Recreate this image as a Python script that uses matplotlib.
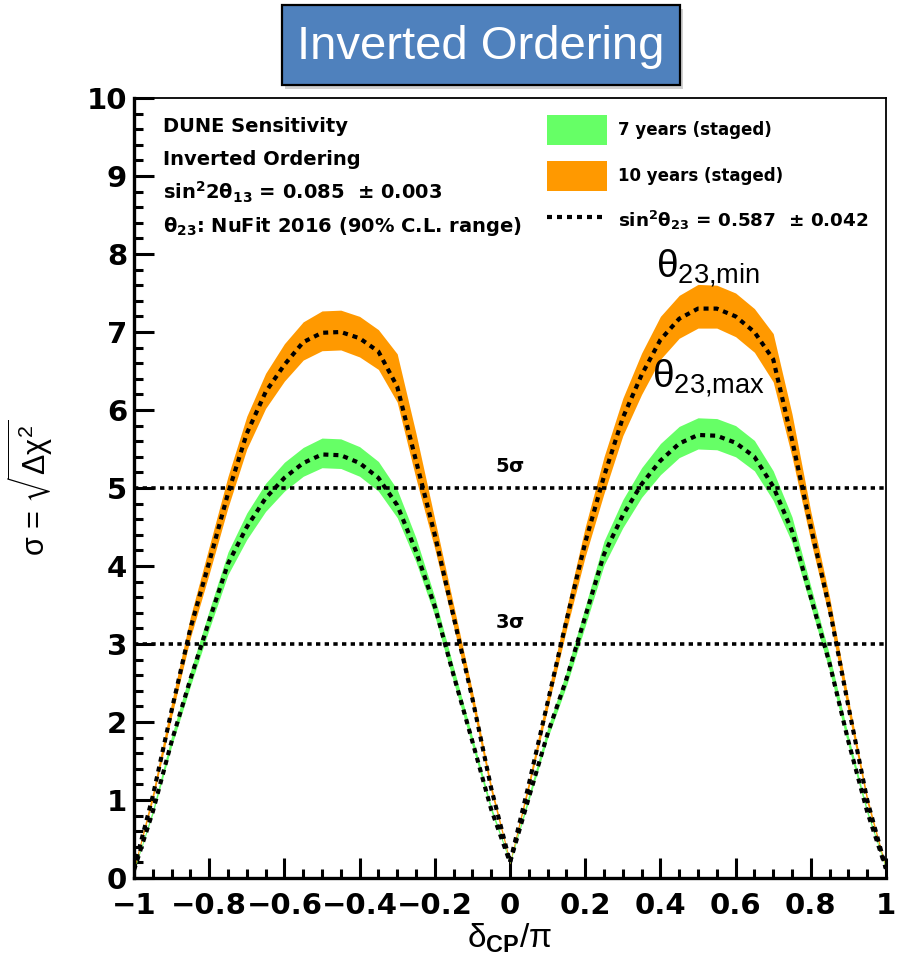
import matplotlib
matplotlib.use("Agg")
import matplotlib.pyplot as plt
from matplotlib.patches import Rectangle
from matplotlib.lines import Line2D
from matplotlib.patches import Patch

# ---------------- data ----------------
dcp = [-1.00, -0.95, -0.90, -0.85, -0.80, -0.75, -0.70, -0.65, -0.60, -0.55,
       -0.50, -0.45, -0.40, -0.35, -0.30, -0.25, -0.20, -0.15, -0.10, -0.05,
       0.00, 0.05, 0.10, 0.15, 0.20, 0.25, 0.30, 0.35, 0.40, 0.45,
       0.50, 0.55, 0.60, 0.65, 0.70, 0.75, 0.80, 0.85, 0.90, 0.95, 1.00]

# 10 years (staged): central (sin^2 theta23 = 0.587), upper and lower edge of band
o_mid = [0.12, 1.05, 2.15, 3.20, 4.05, 4.93, 5.70, 6.23, 6.58, 6.87,
         6.99, 7.00, 6.92, 6.75, 6.30, 5.35, 4.40, 3.35, 2.30, 1.15,
         0.20, 1.20, 2.25, 3.30, 4.30, 5.15, 5.90, 6.45, 6.90, 7.17,
         7.30, 7.30, 7.20, 7.00, 6.65, 5.62, 4.50, 3.45, 2.20, 1.00, 0.12]
o_hi = [0.14, 1.10, 2.25, 3.35, 4.25, 5.15, 5.92, 6.47, 6.85, 7.13,
        7.27, 7.28, 7.20, 7.03, 6.72, 5.70, 4.60, 3.50, 2.40, 1.20,
        0.22, 1.25, 2.35, 3.45, 4.50, 5.40, 6.15, 6.73, 7.20, 7.47,
        7.61, 7.60, 7.50, 7.30, 6.98, 5.95, 4.70, 3.60, 2.30, 1.05, 0.14]
o_lo = [0.10, 1.00, 2.07, 3.08, 3.90, 4.75, 5.50, 6.02, 6.37, 6.64,
        6.76, 6.77, 6.68, 6.52, 6.10, 5.12, 4.22, 3.22, 2.22, 1.10,
        0.18, 1.15, 2.17, 3.18, 4.12, 4.93, 5.67, 6.20, 6.65, 6.92,
        7.05, 7.05, 6.94, 6.74, 6.36, 5.40, 4.32, 3.32, 2.12, 0.96, 0.10]

# 7 years (staged)
g_mid = [0.10, 0.85, 1.75, 2.55, 3.30, 4.03, 4.50, 4.87, 5.13, 5.32,
         5.43, 5.42, 5.32, 5.13, 4.78, 4.19, 3.48, 2.60, 1.75, 0.88,
         0.20, 1.03, 1.85, 2.55, 3.35, 4.15, 4.65, 5.05, 5.35, 5.57,
         5.68, 5.67, 5.58, 5.40, 5.02, 4.45, 3.60, 2.75, 1.75, 0.85, 0.12]
g_hi = [0.11, 0.88, 1.82, 2.65, 3.43, 4.18, 4.68, 5.06, 5.33, 5.52,
        5.64, 5.63, 5.53, 5.34, 4.98, 4.36, 3.60, 2.70, 1.81, 0.92,
        0.21, 1.07, 1.92, 2.65, 3.48, 4.32, 4.85, 5.26, 5.57, 5.79,
        5.90, 5.89, 5.80, 5.61, 5.22, 4.63, 3.74, 2.86, 1.82, 0.88, 0.13]
g_lo = [0.09, 0.82, 1.69, 2.46, 3.19, 3.89, 4.34, 4.70, 4.96, 5.15,
        5.26, 5.25, 5.15, 4.96, 4.62, 4.05, 3.36, 2.51, 1.69, 0.85,
        0.19, 0.99, 1.79, 2.46, 3.23, 4.01, 4.49, 4.88, 5.17, 5.39,
        5.50, 5.49, 5.40, 5.22, 4.84, 4.30, 3.48, 2.65, 1.69, 0.82, 0.11]

sigma_levels = [5, 3]
sigma_labels = [r"5$\sigma$", r"3$\sigma$"]

x_ticks = [-1.0, -0.8, -0.6, -0.4, -0.2, 0.0, 0.2, 0.4, 0.6, 0.8, 1.0]
x_ticklabels = ["\u22121", "\u22120.8", "\u22120.6", "\u22120.4", "\u22120.2", "0",
                "0.2", "0.4", "0.6", "0.8", "1"]
y_ticks = [0, 1, 2, 3, 4, 5, 6, 7, 8, 9, 10]
y_ticklabels = [str(v) for v in y_ticks]

label_7y = "7 years (staged)"
label_10y = "10 years (staged)"
label_mid = r"sin$^{2}\theta_{23}$ = 0.587  $\pm$ 0.042"
info_lines = ["DUNE Sensitivity", "Inverted Ordering",
              r"sin$^{2}$2$\theta_{13}$ = 0.085  $\pm$ 0.003",
              r"$\theta_{23}$: NuFit 2016 (90% C.L. range)"]

# ---------------- style ----------------
plt.rcParams['font.family'] = ['Liberation Sans', 'DejaVu Sans']
plt.rcParams['mathtext.fontset'] = 'custom'
plt.rcParams['mathtext.rm'] = 'Liberation Sans'
plt.rcParams['mathtext.it'] = 'Liberation Sans:italic'
plt.rcParams['mathtext.bf'] = 'Liberation Sans:bold'
plt.rcParams['mathtext.default'] = 'regular'

ROOTFONT = ['DejaVu Sans']
GREEN = '#66ff66'
ORANGE = '#ff9900'
DOT = (0, (1.2, 1.2))

fig = plt.figure(figsize=(8.97, 9.6), dpi=100)
ax = fig.add_axes([134/897, 82/960, 752/897, 780/960])

# bands
ax.fill_between(dcp, o_lo, o_hi, color=ORANGE, lw=0, zorder=2)
ax.fill_between(dcp, g_lo, g_hi, color=GREEN, lw=0, zorder=2)
# central dotted curves
ax.plot(dcp, o_mid, color='black', lw=3.0, linestyle=DOT, zorder=4)
ax.plot(dcp, g_mid, color='black', lw=3.0, linestyle=DOT, zorder=4)

# sigma reference lines
for lev, lab in zip(sigma_levels, sigma_labels):
    ax.axhline(lev, color='black', lw=2.6, linestyle=DOT, zorder=3)
    ax.text(0.0, lev + 0.2, lab, ha='center', va='baseline',
            fontsize=14, fontweight='bold', family=ROOTFONT, zorder=5)

ax.set_xlim(-1, 1)
ax.set_ylim(0, 10)

ax.set_xticks(x_ticks, x_ticklabels, fontweight='bold', fontsize=21, family=ROOTFONT)
ax.set_yticks(y_ticks, y_ticklabels, fontweight='bold', fontsize=21, family=ROOTFONT)
ax.set_xticks([v / 100 for v in range(-100, 101, 5)], minor=True)
ax.set_yticks([v / 5 for v in range(0, 51)], minor=True)
ax.tick_params(which='major', direction='in', length=14.5, width=2.2)
ax.tick_params(which='minor', direction='in', length=6.5, width=2.2)
ax.tick_params(axis='x', which='major', pad=10)
ax.tick_params(axis='y', which='major', pad=5)
ax.tick_params(top=False, right=False, which='both')

for s in ['left', 'bottom']:
    ax.spines[s].set_linewidth(2.4)
for s in ['top', 'right']:
    ax.spines[s].set_linewidth(1.3)

ax.set_xlabel(r"$\delta_{\mathbf{CP}}/\pi$", fontsize=24, labelpad=1)
ax.set_ylabel(r"$\sigma$ = $\sqrt{\Delta\chi^{2}}$", fontsize=22,
              math_fontfamily='dejavusans')
ax.yaxis.set_label_coords(-0.105, 0.5)

# info text
info_y = [0.956, 0.914, 0.870, 0.828]
for t, yy in zip(info_lines, info_y):
    ax.text(0.0386, yy, t, transform=ax.transAxes, fontsize=14,
            fontweight='bold', family=ROOTFONT, math_fontfamily='dejavusans',
            va='baseline', ha='left')

# legend
handles = [Patch(facecolor=GREEN, edgecolor='none'),
           Patch(facecolor=ORANGE, edgecolor='none'),
           Line2D([], [], color='black', lw=3.0, linestyle=DOT)]
leg = ax.legend(handles, [label_7y, label_10y, label_mid], loc='upper left',
                bbox_to_anchor=(0.549, 0.978), frameon=False, borderpad=0,
                borderaxespad=0, handlelength=3.6, handleheight=2.39,
                labelspacing=0.96, handletextpad=0.66,
                prop={'size': 12, 'weight': 'bold', 'family': ROOTFONT})
for t in leg.get_texts():
    t.set_math_fontfamily('dejavusans')
leg.get_texts()[2].set_fontsize(13.2)

# theta23 annotations
ax.text(0.388, 7.7, r"$\theta_{23{,}min}$", fontsize=28, ha='left', va='baseline', zorder=6)
ax.text(0.378, 6.29, r"$\theta_{23{,}max}$", fontsize=28, ha='left', va='baseline', zorder=6)

# title box
shadow = Rectangle((285/897, 1 - 89/960), 398/897, 80/960, transform=fig.transFigure,
                   facecolor='#d0d0d0', edgecolor='none', zorder=1)
box = Rectangle((282/897, 1 - 85/960), 398/897, 80/960, transform=fig.transFigure,
                facecolor='#4f81bd', edgecolor='black', lw=1.6, zorder=2)
fig.patches.extend([shadow, box])
fig.text(481/897, 1 - 47/960, "Inverted Ordering", color='white', fontsize=34,
         ha='center', va='center', zorder=3,
         family=['Liberation Sans', 'DejaVu Sans'])

fig.savefig("out.png", dpi=100, facecolor='white')
